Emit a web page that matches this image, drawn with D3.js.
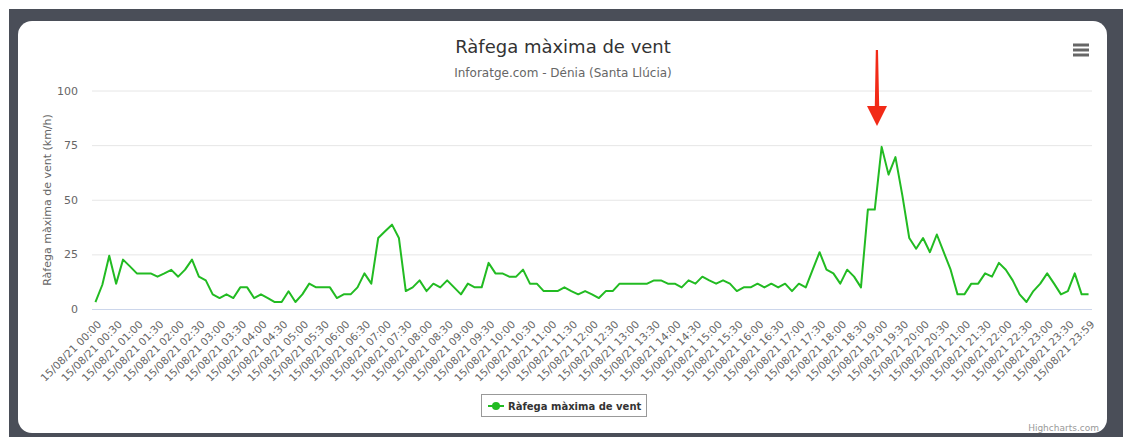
<!DOCTYPE html>
<script src="https://d3js.org/d3.v7.min.js"></script>

<html>
<head>
<meta charset="utf-8">
<style>
    body { margin: 0; background: #fff; }
    text { font-family: "DejaVu Sans", Verdana, sans-serif; }
</style>
</head>
<body>
<div id="myPlot"></div>
</body>
<script>

    const W = 1123;
    const H = 437;

    const title = "Ràfega màxima de vent";
    const subtitle = "Inforatge.com - Dénia (Santa Llúcia)";
    const yTitle = "Ràfega màxima de vent (km/h)";
    const seriesName = "Ràfega màxima de vent";
    const yTicks = [0, 25, 50, 75, 100];

    // 10 minute steps, last one is 23:59
    const categories = [];
    for (let h = 0; h < 24; h++) {
        for (let m = 0; m < 60; m += 10) {
            categories.push("15/08/21 " + String(h).padStart(2, "0") + ":" + String(m).padStart(2, "0"));
        }
    }
    categories.push("15/08/21 23:59");

    // km/h
    const gust = [
        3.2, 11.1, 24.4, 11.6, 22.6, 19.5, 16.3, 16.3, 16.3, 14.8, 16.3, 17.9,
        14.8, 18.0, 22.6, 14.8, 13.1, 6.7, 5.0, 6.7, 5.0, 9.9, 9.9, 5.0,
        6.7, 5.0, 3.2, 3.2, 8.1, 3.2, 6.7, 11.6, 9.9, 9.9, 9.9, 5.0,
        6.7, 6.7, 9.9, 16.3, 11.6, 32.5, 35.6, 38.6, 32.5, 8.2, 9.9, 13.1,
        8.2, 11.6, 9.9, 13.1, 9.9, 6.7, 11.6, 9.9, 9.9, 21.1, 16.3, 16.3,
        14.8, 14.8, 18.0, 11.6, 11.6, 8.2, 8.2, 8.2, 9.9, 8.2, 6.7, 8.2,
        6.7, 5.0, 8.2, 8.2, 11.6, 11.6, 11.6, 11.6, 11.6, 13.1, 13.1, 11.6,
        11.6, 9.9, 13.1, 11.6, 14.8, 13.1, 11.6, 13.1, 11.6, 8.2, 9.9, 9.9,
        11.6, 9.9, 11.6, 9.9, 11.6, 8.2, 11.6, 9.9, 18.0, 26.0, 18.0, 16.3,
        11.6, 18.0, 14.8, 9.9, 45.5, 45.5, 74.2, 61.5, 69.5, 52.0, 32.5, 27.6,
        32.5, 26.0, 34.1, 26.0, 18.0, 6.7, 6.7, 11.6, 11.6, 16.3, 14.8, 21.1,
        18.0, 13.1, 6.7, 3.2, 8.2, 11.6, 16.3, 11.6, 6.7, 8.2, 16.3, 6.7,
        6.7
    ];

    const green = "#22bb22";
    const plot = { left: 92, right: 1092, top: 90.5, bottom: 309 };

    const svg = d3.select("#myPlot").append("svg")
        .attr("width", W)
        .attr("height", H);

    // frame + card
    svg.append("rect").attr("x", 9).attr("y", 9).attr("width", W - 9).attr("height", H - 9)
        .attr("fill", "#4a4e58");
    svg.append("rect").attr("x", 18).attr("y", 21).attr("width", 1089).attr("height", 412)
        .attr("rx", 14).attr("fill", "#fff");

    const x = d3.scalePoint()
        .domain(categories)
        .range([plot.left, plot.right])
        .padding(0.5);

    const y = d3.scaleLinear()
        .domain([0, 100])
        .range([plot.bottom, plot.top]);

    // Y axis with grid
    const yAxis = svg.append("g")
        .attr("transform", "translate(" + plot.left + ",0)")
        .call(d3.axisLeft(y).tickValues(yTicks).tickSize(-(plot.right - plot.left)).tickPadding(14));
    yAxis.select(".domain").remove();
    yAxis.selectAll(".tick line").attr("stroke", "#e6e6e6");
    yAxis.selectAll(".tick text")
        .attr("fill", "#666")
        .style("font-size", "11px");

    // X axis
    const xTickVals = categories.filter((d, i) => i % 3 === 0);
    const xAxis = svg.append("g")
        .attr("transform", "translate(0," + plot.bottom + ")")
        .call(d3.axisBottom(x).tickValues(xTickVals).tickSize(0));
    xAxis.select(".domain").attr("stroke", "#ccd6eb").attr("d", "M" + plot.left + ",0.5H" + plot.right);
    xAxis.selectAll(".tick text")
        .attr("fill", "#666")
        .style("font-size", "10.5px")
        .attr("text-anchor", "end")
        .attr("dy", 0)
        .attr("transform", "translate(4,14) rotate(-45)");

    // Y title
    svg.append("text")
        .attr("transform", "translate(51,200) rotate(-90)")
        .attr("text-anchor", "middle")
        .attr("fill", "#666")
        .style("font-size", "11px")
        .text(yTitle);

    // line
    const line = d3.line()
        .x((d, i) => x(categories[i]))
        .y(d => y(d));

    svg.append("path")
        .datum(gust)
        .attr("d", line)
        .attr("fill", "none")
        .attr("stroke", green)
        .attr("stroke-width", 2)
        .attr("stroke-linejoin", "round");

    // titles
    svg.append("text")
        .attr("x", 563).attr("y", 53)
        .attr("text-anchor", "middle")
        .attr("fill", "#333")
        .style("font-size", "18px")
        .text(title);
    svg.append("text")
        .attr("x", 563).attr("y", 77)
        .attr("text-anchor", "middle")
        .attr("fill", "#666")
        .style("font-size", "12px")
        .text(subtitle);

    // menu button
    const menu = svg.append("g").attr("stroke", "#666").attr("stroke-width", 3);
    [45, 50, 55].forEach(v => {
        menu.append("line").attr("x1", 1073).attr("x2", 1089).attr("y1", v).attr("y2", v);
    });

    // red arrow annotation
    svg.append("path")
        .attr("d", "M875.8,50 L878,50 L879.2,106 L887,106 L877,126 L867,106 L874.8,106 Z")
        .attr("fill", "#f22a17");

    // legend
    const leg = svg.append("g").attr("transform", "translate(481,394)");
    leg.append("rect").attr("x", 0.5).attr("y", 0.5).attr("width", 165).attr("height", 22)
        .attr("fill", "#fff").attr("stroke", "#999");
    leg.append("line").attr("x1", 7).attr("x2", 23).attr("y1", 12).attr("y2", 12)
        .attr("stroke", green).attr("stroke-width", 2);
    leg.append("circle").attr("cx", 15).attr("cy", 12).attr("r", 4).attr("fill", green);
    leg.append("text").attr("x", 27).attr("y", 16)
        .attr("fill", "#333")
        .style("font-size", "10px")
        .style("font-weight", "bold")
        .text(seriesName);

    // credits
    svg.append("text")
        .attr("x", 1099).attr("y", 431)
        .attr("text-anchor", "end")
        .attr("fill", "#999")
        .style("font-size", "9px")
        .text("Highcharts.com");

</script>
</html>
